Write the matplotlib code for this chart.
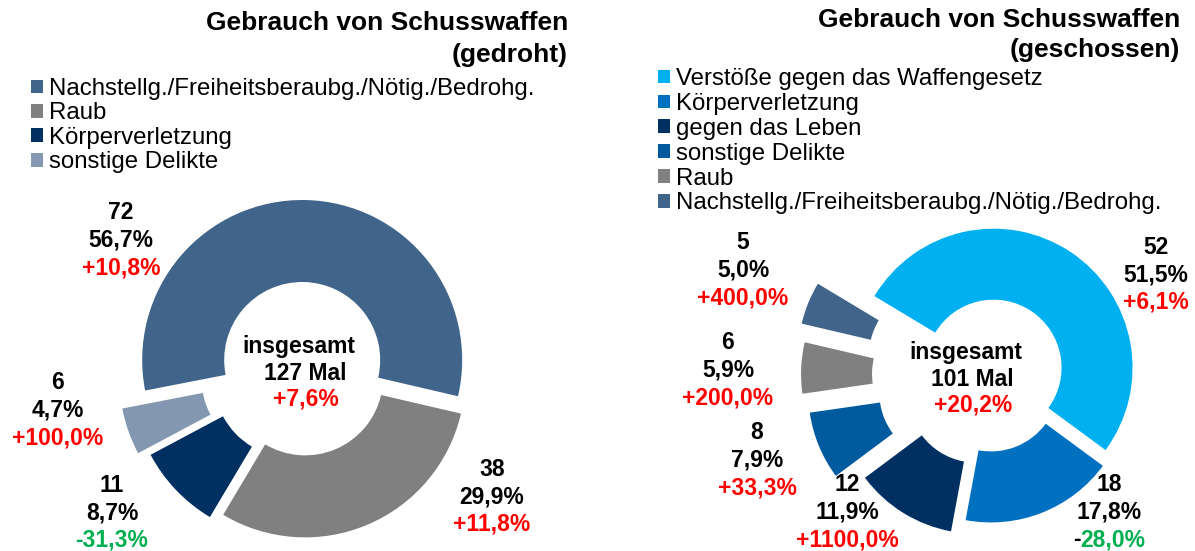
import matplotlib
matplotlib.use("Agg")
import matplotlib.pyplot as plt

W, H = 1195, 551
plt.rcParams['font.family'] = ['Liberation Sans', 'DejaVu Sans']

# --- data: "gedroht" (threatened) ---
left_cats = ["Nachstellg./Freiheitsberaubg./Nötig./Bedrohg.", "Raub",
             "Körperverletzung", "sonstige Delikte"]
left_vals = [72, 38, 11, 6]
left_change = ["+10,8%", "+11,8%", "-31,3%", "+100,0%"]
left_total_change = "+7,6%"

# --- data: "geschossen" (fired) ---
right_cats = ["Verstöße gegen das Waffengesetz", "Körperverletzung", "gegen das Leben",
              "sonstige Delikte", "Raub", "Nachstellg./Freiheitsberaubg./Nötig./Bedrohg."]
right_vals = [52, 18, 12, 8, 6, 5]
right_change = ["+6,1%", "-28,0%", "+1100,0%", "+33,3%", "+200,0%", "+400,0%"]
right_total_change = "+20,2%"

# --- style / layout (image pixel coords, y from top) ---
left_colors = ["#41658A", "#808080", "#002F62", "#8497B0"]
right_colors = ["#00B0F0", "#0070C0", "#002F62", "#005A9E", "#808080", "#41658A"]
RED, GREEN = "#FF0000", "#00B050"

left_geo = dict(center=(302, 370), radius=160, width=82, start=191, explode=[10, 8, 14, 24])
right_geo = dict(center=(988, 376), radius=139, width=71, start=149, explode=[10, 8, 22, 44, 48, 55])

left_label_pos = [(121, 240), (492, 497), (112, 513), (58, 410)]
right_label_pos = [(1156, 275), (1109, 512), (847, 512), (757, 460), (728, 370), (743, 270)]
right_black_sign = [False, True, False, False, False, False]

LINE = 27.5
LBL_FS = 16.5


def pct(v, total):
    return f"{v / total * 100:.1f}".replace(".", ",") + "%"


def donut(ax, vals, colors, geo):
    cx, cy = geo["center"]
    wedges, _ = ax.pie(vals, colors=colors, startangle=geo["start"], counterclock=False,
                       explode=geo["explode"], center=(cx, H - cy), radius=geo["radius"],
                       wedgeprops=dict(width=geo["width"], linewidth=0, edgecolor="none"))
    return wedges


def change_color(s):
    return GREEN if s.startswith("-") else RED


fig = plt.figure(figsize=(W / 100, H / 100), dpi=100)
ax = fig.add_axes([0, 0, 1, 1])

lw = donut(ax, left_vals, left_colors, left_geo)
rw = donut(ax, right_vals, right_colors, right_geo)

ax.set_xlim(0, W)
ax.set_ylim(0, H)
ax.set_aspect("equal")
ax.axis("off")

renderer = fig.canvas.get_renderer()
txt = dict(fontsize=LBL_FS, fontweight="bold", va="center")


def label_block(x, y, lines, colors, black_sign=False):
    for i, (s, c) in enumerate(zip(lines, colors)):
        yy = H - (y + (i - 1) * LINE)
        if black_sign and i == 2:
            # sign in black, number in colour (as in the source)
            probe = ax.text(x, yy, s, ha="center", color="none", **txt)
            bb = probe.get_window_extent(renderer)
            probe.remove()
            x0 = ax.transData.inverted().transform((bb.x0, 0))[0]
            x1 = ax.transData.inverted().transform((bb.x1, 0))[0]
            ax.text(x0, yy, s[0], ha="left", color="black", **txt)
            ax.text(x1, yy, s[1:], ha="right", color=c, **txt)
        else:
            ax.text(x, yy, s, ha="center", color=c, **txt)


lt = sum(left_vals)
for v, ch, (x, y) in zip(left_vals, left_change, left_label_pos):
    label_block(x, y, [str(v), pct(v, lt), ch], ["black", "black", change_color(ch)])

rt = sum(right_vals)
for v, ch, (x, y), bs in zip(right_vals, right_change, right_label_pos, right_black_sign):
    label_block(x, y, [str(v), pct(v, rt), ch], ["black", "black", change_color(ch)], bs)

# centre texts
for (x, y), total, ch in [((303, 373), lt, left_total_change), ((970, 379), rt, right_total_change)]:
    ax.text(x - 4, H - (y - 26), "insgesamt", ha="center", **txt)
    ax.text(x + 2, H - y, f"{total} Mal", ha="center", **txt)
    ax.text(x + 3, H - (y + 26), ch, ha="center", color=RED, **txt)

# titles
ttl = dict(ha="right", va="center", fontsize=19, fontweight="bold")
ax.text(568, H - 23, "Gebrauch von Schusswaffen", **ttl)
ax.text(568, H - 55, "(gedroht)", **ttl)
ax.text(1180, H - 20, "Gebrauch von Schusswaffen", **ttl)
ax.text(1180, H - 50, "(geschossen)", **ttl)

# legends
leg_kw = dict(loc="upper left", frameon=False, fontsize=17.3, handlelength=0.5,
              handleheight=0.5, handletextpad=0.25, borderpad=0, borderaxespad=0)
fig.legend(lw, left_cats, bbox_to_anchor=(31 / W, 1 - 78 / H), labelspacing=0.1, **leg_kw)
fig.legend(rw, right_cats, bbox_to_anchor=(658 / W, 1 - 68 / H), labelspacing=0.12, **leg_kw)

fig.savefig("out.png", dpi=100)
